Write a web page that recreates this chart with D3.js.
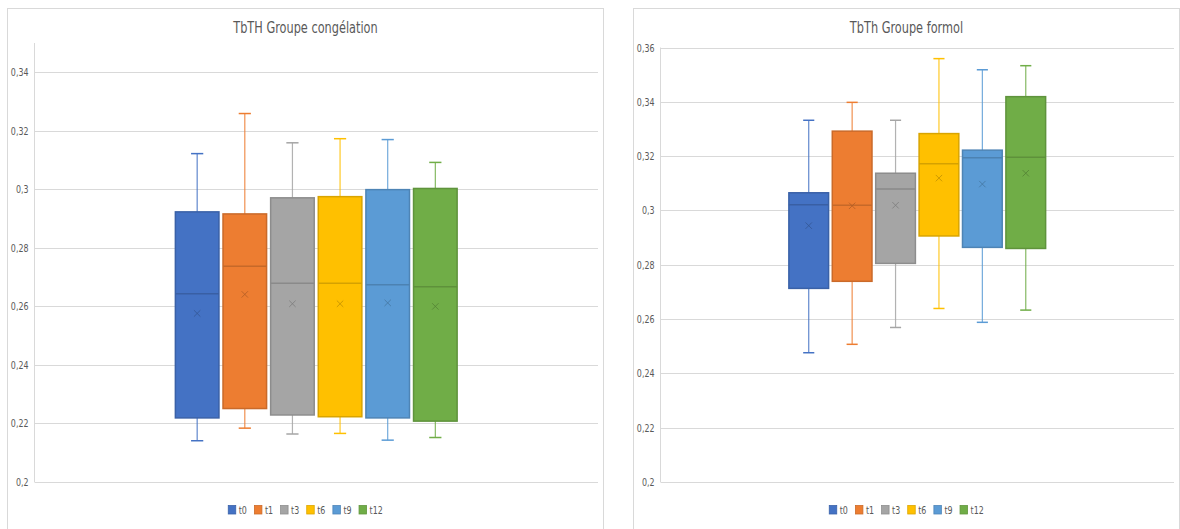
<!DOCTYPE html>
<html>
<head>
<meta charset="utf-8">
<script src="https://cdn.jsdelivr.net/npm/d3@7"></script>
<style>
  body { margin: 0; background: #fff; }
  svg text { font-family: "Liberation Sans Narrow", "DejaVu Sans Condensed", sans-serif; fill: #595959; }
</style>
</head>
<body>
<svg id="chart" width="1180" height="529"></svg>
<script>
// series shown in both charts
const series = ["t0", "t1", "t3", "t6", "t9", "t12"];
const colors = ["#4472C4", "#ED7D31", "#A5A5A5", "#FFC000", "#5B9BD5", "#70AD47"];

// TbTH Groupe congélation
const congMin    = [0.2141, 0.2184, 0.2164, 0.2166, 0.2143, 0.2152];
const congQ1     = [0.2219, 0.2251, 0.2229, 0.2223, 0.2219, 0.2208];
const congMedian = [0.2643, 0.2737, 0.2679, 0.2679, 0.2674, 0.2667];
const congQ3     = [0.2923, 0.2916, 0.2971, 0.2975, 0.2999, 0.3003];
const congMax    = [0.3122, 0.3259, 0.3159, 0.3173, 0.3170, 0.3092];
const congMean   = [0.2576, 0.2641, 0.2609, 0.2609, 0.2612, 0.2600];

// TbTh Groupe formol
const formMin    = [0.2476, 0.2507, 0.2569, 0.2639, 0.2588, 0.2633];
const formQ1     = [0.2713, 0.2739, 0.2805, 0.2906, 0.2864, 0.2860];
const formMedian = [0.3021, 0.3019, 0.3079, 0.3172, 0.3194, 0.3196];
const formQ3     = [0.3065, 0.3292, 0.3137, 0.3283, 0.3222, 0.3419];
const formMax    = [0.3332, 0.3398, 0.3332, 0.3559, 0.3518, 0.3533];
const formMean   = [0.2944, 0.3017, 0.3019, 0.3119, 0.3097, 0.3137];

const svg = d3.select("#chart");
const fmt = d3.formatLocale({decimal: ",", thousands: " ", grouping: [3], currency: ["", ""]}).format("~g");
const squeeze = 0.84; // Calibri is narrower than the fonts we have

function label(g, x, y, str, size, anchor) {
    return g.append("text")
        .attr("transform", `translate(${x},${y}) scale(${squeeze},1)`)
        .attr("text-anchor", anchor || "start")
        .attr("font-size", size)
        .text(str);
}

function rows(min, q1, med, q3, max, mean) {
    return series.map((s, i) => ({
        name: s, color: colors[i],
        min: min[i], q1: q1[i], median: med[i], q3: q3[i], max: max[i], mean: mean[i]
    }));
}

function drawChart(panel, title, data, yDomain) {
    const g = svg.append("g");

    g.append("rect")
        .attr("x", panel.x).attr("y", panel.y)
        .attr("width", panel.w).attr("height", panel.h)
        .attr("fill", "#fff").attr("stroke", "#d9d9d9").attr("stroke-width", 1);

    const y = d3.scaleLinear(yDomain, [panel.plotBottom, panel.plotTop]);

    // one category, occupying half the plot width (Excel gap width 100%)
    const xCat = d3.scaleBand(["all"], [panel.plotLeft, panel.plotRight]).paddingOuter(0.5);
    const x = d3.scaleBand(series, [xCat("all"), xCat("all") + xCat.bandwidth()]).paddingInner(0.085);

    const ticks = y.ticks(8);
    g.selectAll(".grid").data(ticks).join("line")
        .attr("x1", panel.plotLeft).attr("x2", panel.plotRight)
        .attr("y1", d => Math.round(y(d)) + 0.5).attr("y2", d => Math.round(y(d)) + 0.5)
        .attr("stroke", "#d9d9d9").attr("stroke-width", 1);

    g.append("line")
        .attr("x1", panel.plotLeft).attr("x2", panel.plotLeft)
        .attr("y1", panel.plotTop).attr("y2", panel.plotBottom)
        .attr("stroke", "#d9d9d9");

    ticks.forEach(t => label(g, panel.plotLeft - 6, y(t) + 4, fmt(t), 10.5, "end"));

    label(g, panel.x + panel.w / 2, panel.y + 24, title, 15, "middle");

    const bw = x.bandwidth();
    const cap = bw * 0.28;
    const box = g.selectAll(".box").data(data).join("g");

    // whiskers
    box.append("line")
        .attr("x1", d => x(d.name) + bw / 2).attr("x2", d => x(d.name) + bw / 2)
        .attr("y1", d => y(d.max)).attr("y2", d => y(d.min))
        .attr("stroke", d => d.color).attr("stroke-width", 1.2).attr("stroke-opacity", 0.85);
    ["min", "max"].forEach(k => {
        box.append("line")
            .attr("x1", d => x(d.name) + bw / 2 - cap / 2).attr("x2", d => x(d.name) + bw / 2 + cap / 2)
            .attr("y1", d => y(d[k])).attr("y2", d => y(d[k]))
            .attr("stroke", d => d.color).attr("stroke-width", 1.5);
    });

    box.append("rect")
        .attr("x", d => x(d.name)).attr("width", bw)
        .attr("y", d => y(d.q3)).attr("height", d => y(d.q1) - y(d.q3))
        .attr("fill", d => d.color)
        .attr("stroke", d => d3.color(d.color).darker(0.45)).attr("stroke-width", 1.5);

    box.append("line")
        .attr("x1", d => x(d.name)).attr("x2", d => x(d.name) + bw)
        .attr("y1", d => y(d.median)).attr("y2", d => y(d.median))
        .attr("stroke", d => d3.color(d.color).darker(0.5)).attr("stroke-width", 1.5);

    // mean marker
    const m = 3.2;
    box.append("path")
        .attr("d", d => {
            const cx = x(d.name) + bw / 2, cy = y(d.mean);
            return `M${cx - m},${cy - m}L${cx + m},${cy + m}M${cx - m},${cy + m}L${cx + m},${cy - m}`;
        })
        .attr("stroke", d => d3.color(d.color).darker(0.8)).attr("stroke-opacity", 0.8)
        .attr("stroke-width", 1).attr("fill", "none");

    // legend: lay out first, then center on the chart area
    const leg = g.append("g");
    let lx = 0;
    series.forEach((s, i) => {
        leg.append("rect")
            .attr("x", lx).attr("y", -4.5).attr("width", 7.5).attr("height", 8.5)
            .attr("fill", colors[i]).attr("stroke", d3.color(colors[i]).darker(0.4)).attr("stroke-width", 0.8);
        const t = label(leg, lx + 10.5, 3.5, s, 10.5);
        lx += 10.5 + t.node().getComputedTextLength() * squeeze + 7.5;
    });
    const legW = lx - 7.5;
    leg.attr("transform", `translate(${panel.x + panel.w / 2 - legW / 2},510)`);
}

drawChart(
    {x: 7.5, y: 8.5, w: 596, h: 530, plotLeft: 34.5, plotRight: 598, plotTop: 43, plotBottom: 482},
    "TbTH Groupe congélation",
    rows(congMin, congQ1, congMedian, congQ3, congMax, congMean),
    [0.2, 0.35]
);

drawChart(
    {x: 633.5, y: 8.5, w: 546, h: 530, plotLeft: 660.5, plotRight: 1174, plotTop: 47.5, plotBottom: 482},
    "TbTh Groupe formol",
    rows(formMin, formQ1, formMedian, formQ3, formMax, formMean),
    [0.2, 0.36]
);
</script>
</body>
</html>
